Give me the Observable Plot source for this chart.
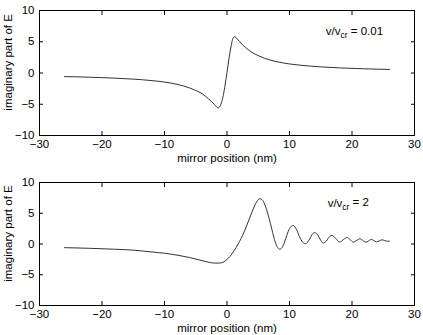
<!DOCTYPE html>
<html><head><meta charset="utf-8">
<script src="https://cdn.jsdelivr.net/npm/d3@7"></script>
<script src="https://cdn.jsdelivr.net/npm/@observablehq/plot@0.6"></script>
<style>
body{margin:0;background:#fff;}
#chart svg{display:block;}
</style>
</head><body><div id="chart"></div>
<script>
const xTicks = [-30, -20, -10, 0, 10, 20, 30];
const yTicks = [-10, -5, 0, 5, 10];
const xLabel = "mirror position (nm)";
const yLabel = "imaginary part of E";

const topX = [-26,-22,-18,-15,-12,-10,-8,-6,-5,-4,-3,-2.5,-2,-1.7,-1.45,-1.2,-0.9,-0.6,-0.3,0,0.3,0.6,0.8,1.0,1.25,1.6,2,2.5,3,4,5,6,8,10,12,15,18,22,26];
const topY = [-0.57,-0.67,-0.82,-0.98,-1.22,-1.45,-1.81,-2.38,-2.8,-3.3,-4.1,-4.55,-5.05,-5.4,-5.6,-5.45,-4.8,-3.6,-1.9,0.1,2.2,4.0,5.0,5.65,5.8,5.5,5.05,4.5,4.05,3.3,2.78,2.36,1.8,1.45,1.22,0.98,0.82,0.67,0.57];

const botX = [-26,-22,-18,-15,-12,-10,-8,-6,-4,-3,-2,-1.2,-0.5,0,0.5,1,1.5,2,2.5,3,3.5,4,4.5,5,5.3,5.7,6.2,6.7,7.2,7.6,8,8.4,8.8,9.2,9.6,10,10.6,11.1,11.6,12.1,12.6,13.1,13.6,14,14.5,15,15.4,15.9,16.4,16.8,17.4,18,18.6,19.2,19.7,20.2,20.7,21.25,21.7,22.2,22.65,23.1,23.5,23.9,24.35,24.8,25.25,25.7,26];
const botY = [-0.6,-0.7,-0.85,-1.0,-1.3,-1.5,-1.8,-2.2,-2.7,-2.95,-3.1,-3.1,-2.9,-2.5,-2.0,-1.3,-0.5,0.4,1.4,2.6,3.9,5.2,6.4,7.2,7.35,7.1,6.0,4.3,2.3,0.7,-0.4,-0.85,-0.6,0.3,1.5,2.5,3.0,2.4,1.2,0.3,0.05,0.6,1.5,1.85,1.5,0.6,0.15,0.5,1.2,1.4,0.9,0.3,0.7,1.05,0.7,0.3,0.55,0.85,0.6,0.3,0.5,0.75,0.55,0.35,0.5,0.68,0.55,0.45,0.45];

const panels = [
  {xs: topX, ys: topY, ratio: "0.01", ax: 15.8, ay: 6.6, height: 168, mt: 10, mb: 33},
  {xs: botX, ys: botY, ratio: "2", ax: 16.1, ay: 6.6, height: 167, mt: 14, mb: 30}
];

const font = "'Liberation Sans', Arial, Helvetica, sans-serif";

for (const p of panels) {
  const data = p.xs.map((x, i) => ({x, y: p.ys[i]}));
  const chart = Plot.plot({
    width: 423, height: p.height,
    marginLeft: 39, marginRight: 9, marginTop: p.mt, marginBottom: p.mb,
    style: {fontFamily: font, fontSize: "11.5px", color: "#000", background: "#fff", overflow: "visible"},
    x: {domain: [-30, 30], ticks: xTicks, label: null},
    y: {domain: [-10, 10], ticks: yTicks, label: null},
    marks: [
      Plot.frame({stroke: "#000", strokeWidth: 1}),
      Plot.axisX(xTicks, {anchor: "bottom", tickSize: -4, tickPadding: 8, fontSize: 11.5, label: null}),
      Plot.axisX(xTicks, {anchor: "top", tickSize: -4, text: null, label: null}),
      Plot.axisY(yTicks, {anchor: "left", tickSize: -4, tickPadding: 9, fontSize: 11.5, label: null}),
      Plot.axisY(yTicks, {anchor: "right", tickSize: -4, text: null, label: null}),
      Plot.line(data, {x: "x", y: "y", stroke: "#333", strokeWidth: 1, curve: "monotone-x"}),
      Plot.text([p.ratio], {x: p.ax, y: p.ay, text: d => "v/vcr = " + d, textAnchor: "start", fontSize: 11.5, fill: "#000", className: "ratio-label"}),
      Plot.text([xLabel], {x: 0, y: -10, dy: 22.5, text: d => d, fontSize: 11.5, fill: "#000"}),
      Plot.text([yLabel], {x: -30, y: 1.7, dx: -31, rotate: -90, text: d => d, fontSize: 11.5, fill: "#000"})
    ]
  });
  // subscript "cr"
  d3.select(chart).selectAll(".ratio-label text").each(function() {
    const t = d3.select(this);
    const s = t.text();
    const rest = s.slice("v/vcr".length);
    t.text(null);
    t.append("tspan").text("v/v");
    t.append("tspan").attr("dy", "0.3em").attr("font-size", "8.5px").text("cr");
    t.append("tspan").attr("dy", "-0.3em").text(rest);
  });
  document.getElementById("chart").appendChild(chart);
}
</script>
</body></html>
